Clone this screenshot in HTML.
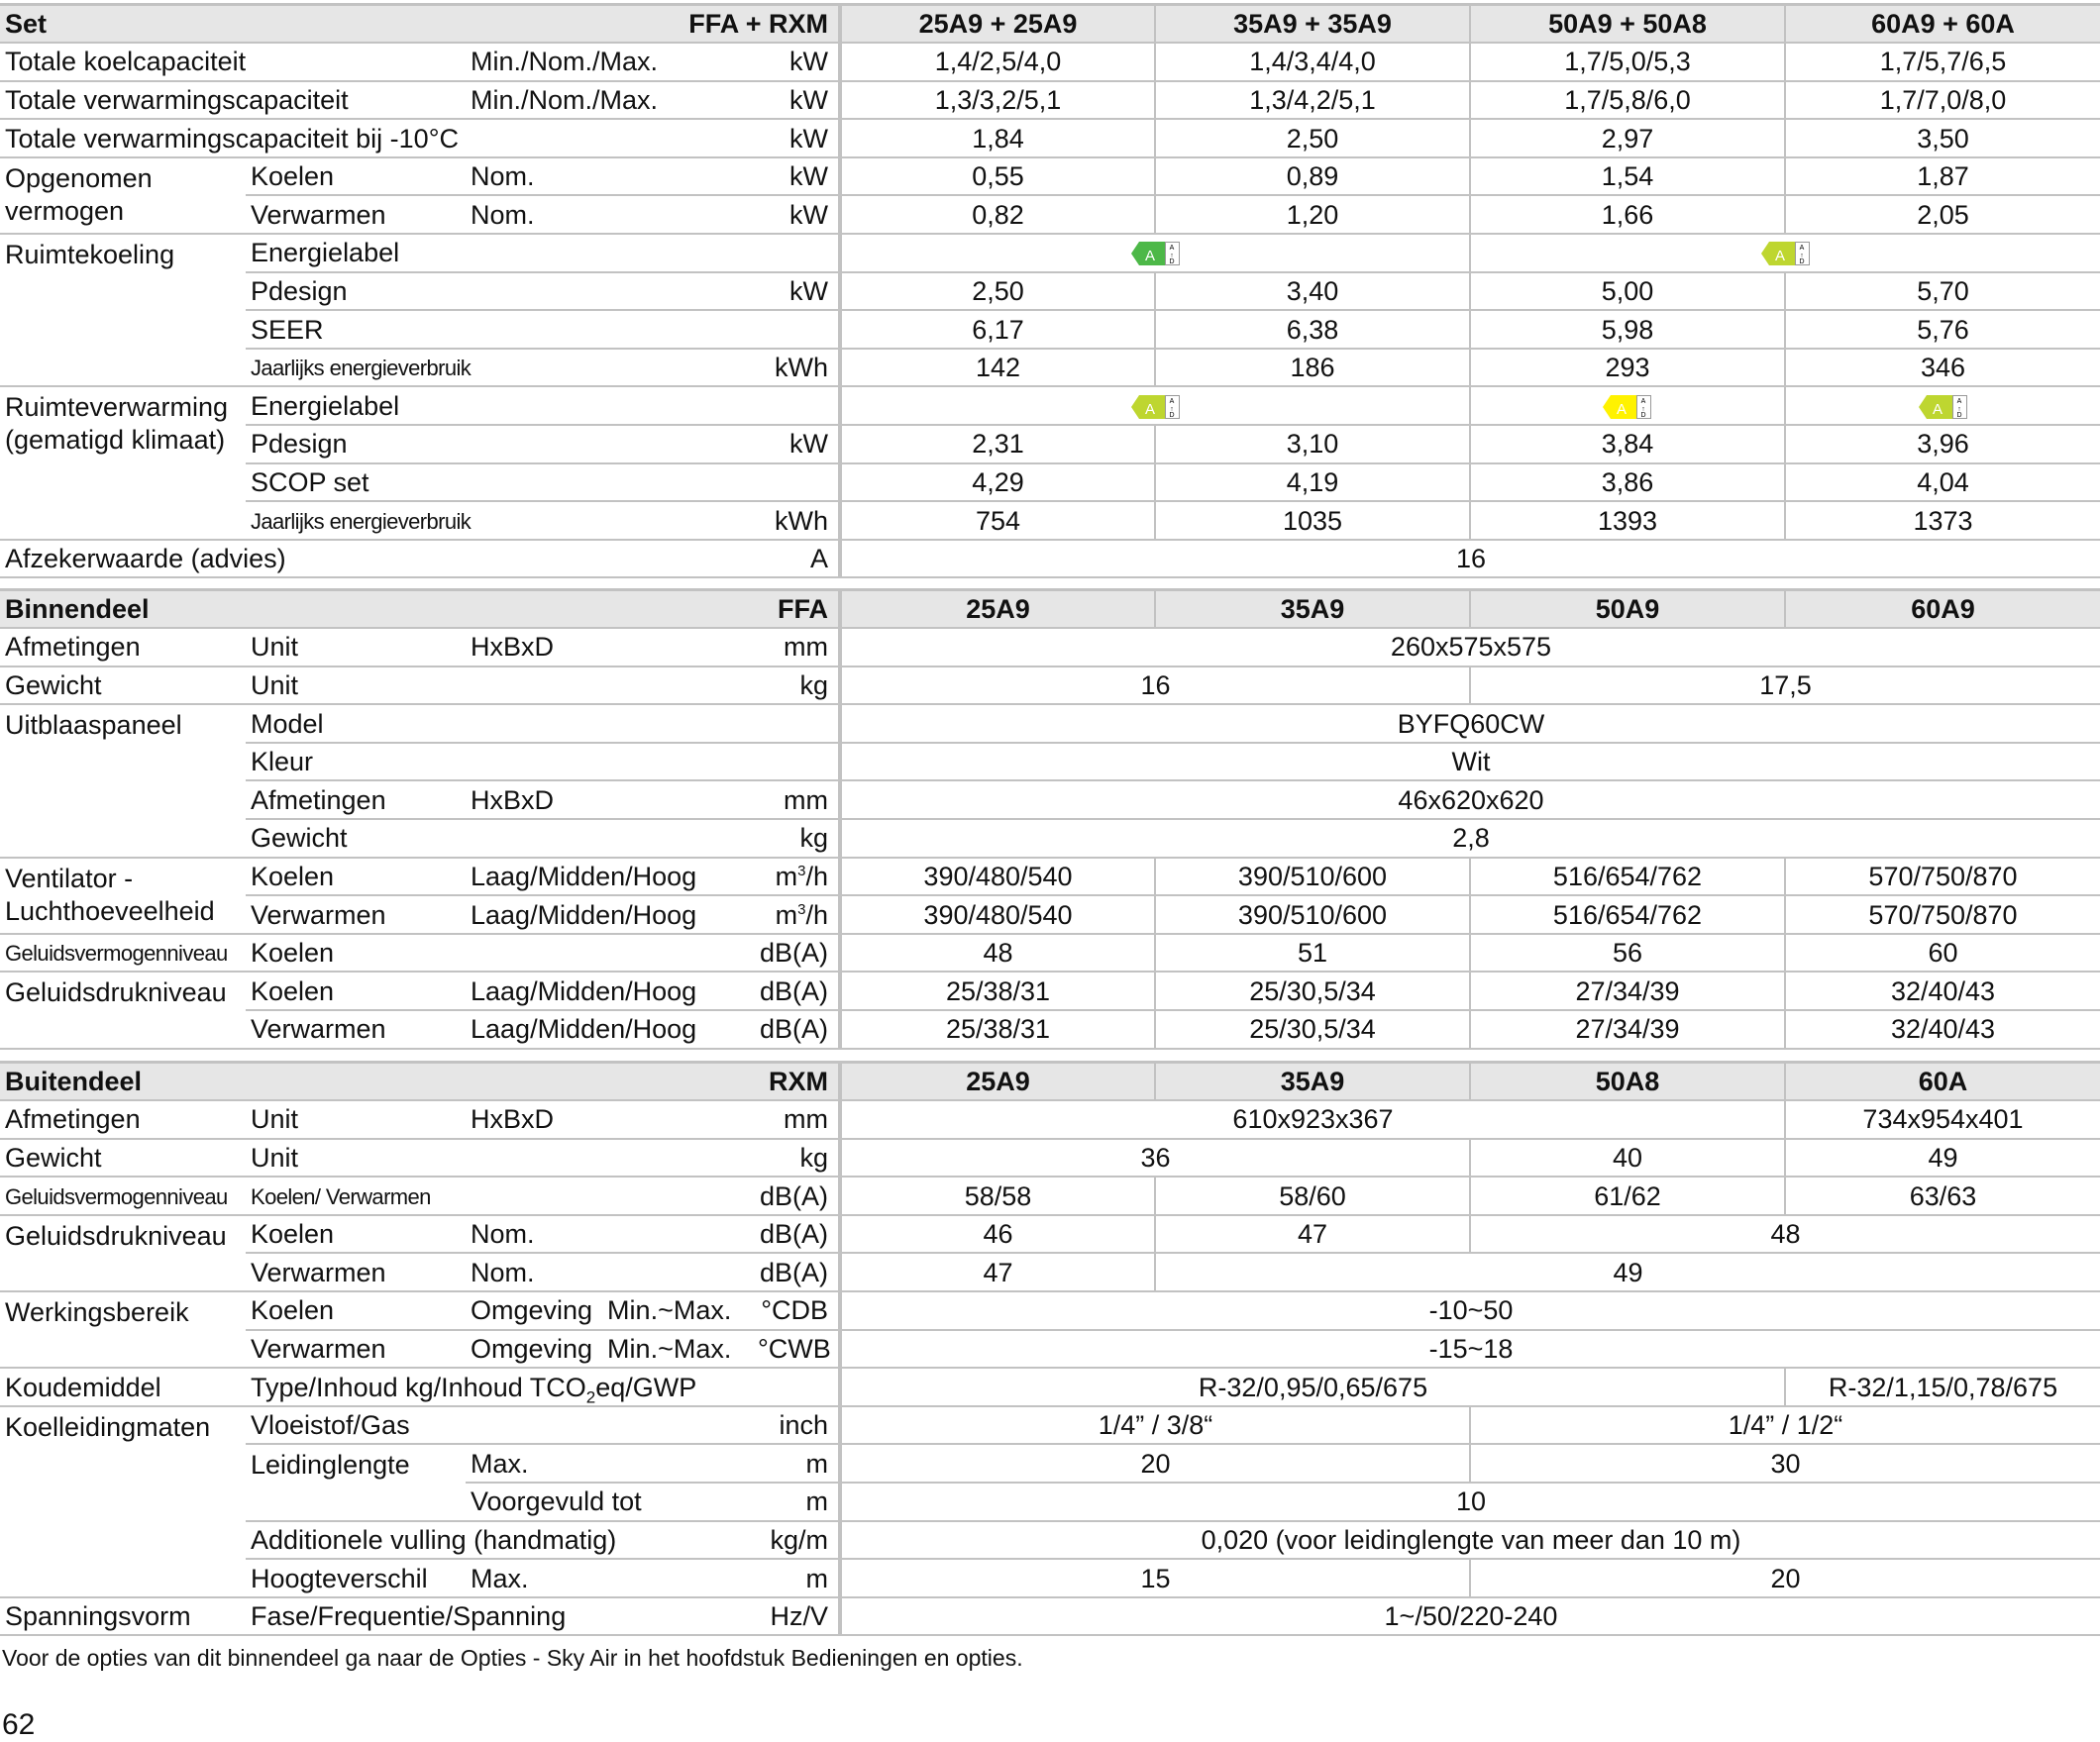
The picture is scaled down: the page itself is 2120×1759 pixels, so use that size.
<!DOCTYPE html>
<html><head><meta charset="utf-8"><style>
body{margin:0;width:2120px;height:1758px;background:#fff;position:relative;overflow:hidden;color:#111}
table{position:absolute;left:0;width:2120px;border-collapse:collapse;table-layout:fixed;font-family:"Liberation Sans",sans-serif;font-size:27px}
td{height:38.6px;padding:0 0 0 5px;border-bottom:2px solid #c2c2c2;white-space:nowrap;overflow:visible;box-sizing:border-box;vertical-align:middle;line-height:30px}
td.d{text-align:center;border-left:2px solid #c2c2c2;padding:0}
td.u{text-align:right;padding-right:10px;border-right:4px solid #c2c2c2}
tr.h td{background:#e6e6e6;font-weight:bold;border-top:3px solid #c2c2c2}
td.t{vertical-align:top;padding-top:4px;line-height:33px}
.s{font-size:22px;letter-spacing:-0.6px}
sub,sup{line-height:0}
.foot{position:absolute;left:2px;top:1661px;font:23px "Liberation Sans",sans-serif}
.pg{position:absolute;left:2px;top:1725px;font:30px "Liberation Sans",sans-serif}
svg{vertical-align:middle}
</style></head><body>
<table style="top:3px">
<colgroup><col style="width:248px"><col style="width:222px"><col style="width:290px"><col style="width:88px"><col style="width:318px"><col style="width:318px"><col style="width:318px"><col style="width:318px"></colgroup>
<tr class="h"><td>Set</td><td></td><td colspan="2" class="u">FFA + RXM</td><td class="d">25A9 + 25A9</td><td class="d">35A9 + 35A9</td><td class="d">50A9 + 50A8</td><td class="d">60A9 + 60A</td></tr>
<tr><td colspan="2">Totale koelcapaciteit</td><td>Min./Nom./Max.</td><td class="u">kW</td><td class="d">1,4/2,5/4,0</td><td class="d">1,4/3,4/4,0</td><td class="d">1,7/5,0/5,3</td><td class="d">1,7/5,7/6,5</td></tr>
<tr><td colspan="2">Totale verwarmingscapaciteit</td><td>Min./Nom./Max.</td><td class="u">kW</td><td class="d">1,3/3,2/5,1</td><td class="d">1,3/4,2/5,1</td><td class="d">1,7/5,8/6,0</td><td class="d">1,7/7,0/8,0</td></tr>
<tr><td colspan="3">Totale verwarmingscapaciteit bij -10°C</td><td class="u">kW</td><td class="d">1,84</td><td class="d">2,50</td><td class="d">2,97</td><td class="d">3,50</td></tr>
<tr><td rowspan="2" class="t">Opgenomen<br>vermogen</td><td>Koelen</td><td>Nom.</td><td class="u">kW</td><td class="d">0,55</td><td class="d">0,89</td><td class="d">1,54</td><td class="d">1,87</td></tr>
<tr><td>Verwarmen</td><td>Nom.</td><td class="u">kW</td><td class="d">0,82</td><td class="d">1,20</td><td class="d">1,66</td><td class="d">2,05</td></tr>
<tr><td rowspan="4" class="t">Ruimtekoeling</td><td colspan="2">Energielabel</td><td class="u"></td>
<td class="d" colspan="2"><svg width="50" height="30" viewBox="0 0 50 30"><polygon points="0,15 8,3 34,3 34,27 8,27" fill="#4db848"/><text x="19" y="22" font-size="15" fill="#fff" text-anchor="middle" font-family="Liberation Sans">A</text><rect x="34.5" y="3.5" width="14" height="23" fill="#fff" stroke="#999"/><text x="41" y="11" font-size="7" text-anchor="middle" font-family="Liberation Sans">A</text><text x="41" y="19" font-size="7" text-anchor="middle">↑</text><text x="41" y="25" font-size="7" text-anchor="middle" font-family="Liberation Sans">D</text></svg></td>
<td class="d" colspan="2"><svg width="50" height="30" viewBox="0 0 50 30"><polygon points="0,15 8,3 34,3 34,27 8,27" fill="#bed630"/><text x="19" y="22" font-size="15" fill="#fff" text-anchor="middle" font-family="Liberation Sans">A</text><rect x="34.5" y="3.5" width="14" height="23" fill="#fff" stroke="#999"/><text x="41" y="11" font-size="7" text-anchor="middle" font-family="Liberation Sans">A</text><text x="41" y="19" font-size="7" text-anchor="middle">↑</text><text x="41" y="25" font-size="7" text-anchor="middle" font-family="Liberation Sans">D</text></svg></td></tr>
<tr><td colspan="2">Pdesign</td><td class="u">kW</td><td class="d">2,50</td><td class="d">3,40</td><td class="d">5,00</td><td class="d">5,70</td></tr>
<tr><td colspan="2">SEER</td><td class="u"></td><td class="d">6,17</td><td class="d">6,38</td><td class="d">5,98</td><td class="d">5,76</td></tr>
<tr><td colspan="2"><span class="s">Jaarlijks energieverbruik</span></td><td class="u">kWh</td><td class="d">142</td><td class="d">186</td><td class="d">293</td><td class="d">346</td></tr>
<tr><td rowspan="4" class="t">Ruimteverwarming<br>(gematigd klimaat)</td><td colspan="2">Energielabel</td><td class="u"></td>
<td class="d" colspan="2"><svg width="50" height="30" viewBox="0 0 50 30"><polygon points="0,15 8,3 34,3 34,27 8,27" fill="#bed630"/><text x="19" y="22" font-size="15" fill="#fff" text-anchor="middle" font-family="Liberation Sans">A</text><rect x="34.5" y="3.5" width="14" height="23" fill="#fff" stroke="#999"/><text x="41" y="11" font-size="7" text-anchor="middle" font-family="Liberation Sans">A</text><text x="41" y="19" font-size="7" text-anchor="middle">↑</text><text x="41" y="25" font-size="7" text-anchor="middle" font-family="Liberation Sans">D</text></svg></td>
<td class="d"><svg width="50" height="30" viewBox="0 0 50 30"><polygon points="0,15 8,3 34,3 34,27 8,27" fill="#fff200"/><text x="19" y="22" font-size="15" fill="#fff" text-anchor="middle" font-family="Liberation Sans">A</text><rect x="34.5" y="3.5" width="14" height="23" fill="#fff" stroke="#999"/><text x="41" y="11" font-size="7" text-anchor="middle" font-family="Liberation Sans">A</text><text x="41" y="19" font-size="7" text-anchor="middle">↑</text><text x="41" y="25" font-size="7" text-anchor="middle" font-family="Liberation Sans">D</text></svg></td>
<td class="d"><svg width="50" height="30" viewBox="0 0 50 30"><polygon points="0,15 8,3 34,3 34,27 8,27" fill="#bed630"/><text x="19" y="22" font-size="15" fill="#fff" text-anchor="middle" font-family="Liberation Sans">A</text><rect x="34.5" y="3.5" width="14" height="23" fill="#fff" stroke="#999"/><text x="41" y="11" font-size="7" text-anchor="middle" font-family="Liberation Sans">A</text><text x="41" y="19" font-size="7" text-anchor="middle">↑</text><text x="41" y="25" font-size="7" text-anchor="middle" font-family="Liberation Sans">D</text></svg></td></tr>
<tr><td colspan="2">Pdesign</td><td class="u">kW</td><td class="d">2,31</td><td class="d">3,10</td><td class="d">3,84</td><td class="d">3,96</td></tr>
<tr><td colspan="2">SCOP set</td><td class="u"></td><td class="d">4,29</td><td class="d">4,19</td><td class="d">3,86</td><td class="d">4,04</td></tr>
<tr><td colspan="2"><span class="s">Jaarlijks energieverbruik</span></td><td class="u">kWh</td><td class="d">754</td><td class="d">1035</td><td class="d">1393</td><td class="d">1373</td></tr>
<tr><td colspan="3">Afzekerwaarde (advies)</td><td class="u">A</td><td class="d" colspan="4">16</td></tr>
</table>

<table style="top:594px">
<colgroup><col style="width:248px"><col style="width:222px"><col style="width:290px"><col style="width:88px"><col style="width:318px"><col style="width:318px"><col style="width:318px"><col style="width:318px"></colgroup>
<tr class="h"><td>Binnendeel</td><td></td><td colspan="2" class="u">FFA</td><td class="d">25A9</td><td class="d">35A9</td><td class="d">50A9</td><td class="d">60A9</td></tr>
<tr><td>Afmetingen</td><td>Unit</td><td>HxBxD</td><td class="u">mm</td><td class="d" colspan="4">260x575x575</td></tr>
<tr><td>Gewicht</td><td>Unit</td><td></td><td class="u">kg</td><td class="d" colspan="2">16</td><td class="d" colspan="2">17,5</td></tr>
<tr><td rowspan="4" class="t">Uitblaaspaneel</td><td>Model</td><td></td><td class="u"></td><td class="d" colspan="4">BYFQ60CW</td></tr>
<tr><td>Kleur</td><td></td><td class="u"></td><td class="d" colspan="4">Wit</td></tr>
<tr><td>Afmetingen</td><td>HxBxD</td><td class="u">mm</td><td class="d" colspan="4">46x620x620</td></tr>
<tr><td>Gewicht</td><td></td><td class="u">kg</td><td class="d" colspan="4">2,8</td></tr>
<tr><td rowspan="2" class="t">Ventilator -<br>Luchthoeveelheid</td><td>Koelen</td><td>Laag/Midden/Hoog</td><td class="u">m<sup style="font-size:15px">3</sup>/h</td><td class="d">390/480/540</td><td class="d">390/510/600</td><td class="d">516/654/762</td><td class="d">570/750/870</td></tr>
<tr><td>Verwarmen</td><td>Laag/Midden/Hoog</td><td class="u">m<sup style="font-size:15px">3</sup>/h</td><td class="d">390/480/540</td><td class="d">390/510/600</td><td class="d">516/654/762</td><td class="d">570/750/870</td></tr>
<tr><td><span class="s">Geluidsvermogenniveau</span></td><td>Koelen</td><td></td><td class="u">dB(A)</td><td class="d">48</td><td class="d">51</td><td class="d">56</td><td class="d">60</td></tr>
<tr><td rowspan="2" class="t">Geluidsdrukniveau</td><td>Koelen</td><td>Laag/Midden/Hoog</td><td class="u">dB(A)</td><td class="d">25/38/31</td><td class="d">25/30,5/34</td><td class="d">27/34/39</td><td class="d">32/40/43</td></tr>
<tr><td>Verwarmen</td><td>Laag/Midden/Hoog</td><td class="u">dB(A)</td><td class="d">25/38/31</td><td class="d">25/30,5/34</td><td class="d">27/34/39</td><td class="d">32/40/43</td></tr>
</table>

<table style="top:1071px">
<colgroup><col style="width:248px"><col style="width:222px"><col style="width:290px"><col style="width:88px"><col style="width:318px"><col style="width:318px"><col style="width:318px"><col style="width:318px"></colgroup>
<tr class="h"><td>Buitendeel</td><td></td><td colspan="2" class="u">RXM</td><td class="d">25A9</td><td class="d">35A9</td><td class="d">50A8</td><td class="d">60A</td></tr>
<tr><td>Afmetingen</td><td>Unit</td><td>HxBxD</td><td class="u">mm</td><td class="d" colspan="3">610x923x367</td><td class="d">734x954x401</td></tr>
<tr><td>Gewicht</td><td>Unit</td><td></td><td class="u">kg</td><td class="d" colspan="2">36</td><td class="d">40</td><td class="d">49</td></tr>
<tr><td><span class="s">Geluidsvermogenniveau</span></td><td colspan="2"><span class="s">Koelen/ Verwarmen</span></td><td class="u">dB(A)</td><td class="d">58/58</td><td class="d">58/60</td><td class="d">61/62</td><td class="d">63/63</td></tr>
<tr><td rowspan="2" class="t">Geluidsdrukniveau</td><td>Koelen</td><td>Nom.</td><td class="u">dB(A)</td><td class="d">46</td><td class="d">47</td><td class="d" colspan="2">48</td></tr>
<tr><td>Verwarmen</td><td>Nom.</td><td class="u">dB(A)</td><td class="d">47</td><td class="d" colspan="3">49</td></tr>
<tr><td rowspan="2" class="t">Werkingsbereik</td><td>Koelen</td><td>Omgeving&nbsp;&nbsp;Min.~Max.</td><td class="u">°CDB</td><td class="d" colspan="4">-10~50</td></tr>
<tr><td>Verwarmen</td><td>Omgeving&nbsp;&nbsp;Min.~Max.</td><td class="u">°CWB</td><td class="d" colspan="4">-15~18</td></tr>
<tr><td>Koudemiddel</td><td colspan="2">Type/Inhoud kg/Inhoud TCO<sub style="font-size:17px">2</sub>eq/GWP</td><td class="u"></td><td class="d" colspan="3">R-32/0,95/0,65/675</td><td class="d">R-32/1,15/0,78/675</td></tr>
<tr><td rowspan="5" class="t">Koelleidingmaten</td><td colspan="2">Vloeistof/Gas</td><td class="u">inch</td><td class="d" colspan="2">1/4” / 3/8“</td><td class="d" colspan="2">1/4” / 1/2“</td></tr>
<tr><td rowspan="2" class="t">Leidinglengte</td><td>Max.</td><td class="u">m</td><td class="d" colspan="2">20</td><td class="d" colspan="2">30</td></tr>
<tr><td>Voorgevuld tot</td><td class="u">m</td><td class="d" colspan="4">10</td></tr>
<tr><td colspan="2">Additionele vulling (handmatig)</td><td class="u">kg/m</td><td class="d" colspan="4">0,020 (voor leidinglengte van meer dan 10 m)</td></tr>
<tr><td>Hoogteverschil</td><td>Max.</td><td class="u">m</td><td class="d" colspan="2">15</td><td class="d" colspan="2">20</td></tr>
<tr><td>Spanningsvorm</td><td colspan="2">Fase/Frequentie/Spanning</td><td class="u">Hz/V</td><td class="d" colspan="4">1~/50/220-240</td></tr>
</table>
<div class="foot">Voor de opties van dit binnendeel ga naar de Opties - Sky Air in het hoofdstuk Bedieningen en opties.</div>
<div class="pg">62</div>
</body></html>
